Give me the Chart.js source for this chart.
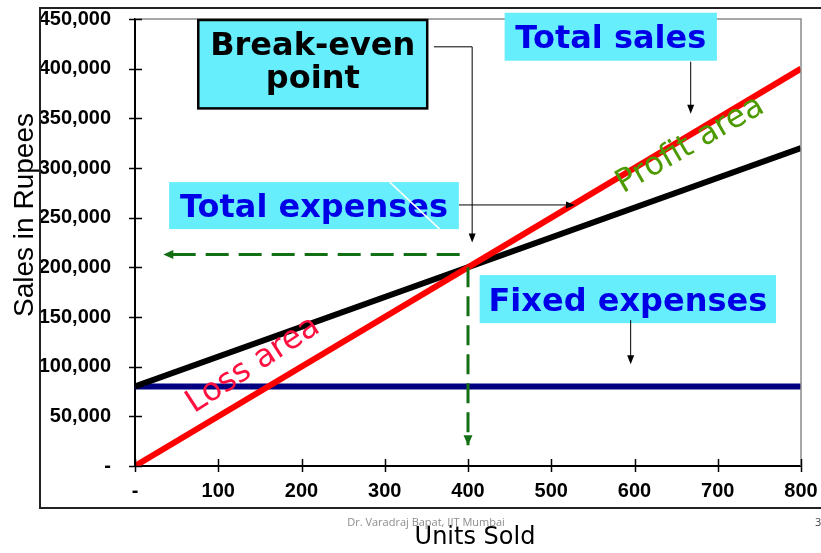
<!DOCTYPE html>
<html>
<head>
<meta charset="utf-8">
<script src="https://cdn.jsdelivr.net/npm/chart.js@4.4.0/dist/chart.umd.min.js"></script>
<style>
  html, body { margin: 0; padding: 0; background: #fff; }
  #wrap { width: 821px; height: 553px; }
</style>
</head>
<body>
<div id="wrap"><canvas id="breakEven" width="821" height="553"></canvas></div>
<script>
// chart data
const units = [0, 800];
const totalSales = [0, 400000];
const totalExpenses = [80000, 320000];
const fixedExpenses = [80000, 80000];

// dashed guides from the break-even point to the axes
const guideLeftX = [390, 34];
const guideLeftY = [213000, 213000];
const guideDownX = [400, 400];
const guideDownY = [200000, 21000];

const xTickValues = [0, 100, 200, 300, 400, 500, 600, 700, 800];
const yTickValues = [0, 50000, 100000, 150000, 200000, 250000, 300000, 350000, 400000, 450000];

function toPoints(xs, ys) {
  return xs.map((x, i) => ({ x: x, y: ys[i] }));
}

// callout boxes, in data units: [x1, y1, x2, y2]
const notes = [
  { lines: ["Break-even", "point"], box: [76, 449000, 351, 360000], color: "#000", border: true,
    arrow: [[359, 422000], [405, 422000], [405, 225000]] },
  { lines: ["Total sales"], box: [444, 456300, 699, 408000], color: "#0000e6",
    arrow: [[667.5, 407000], [667.5, 354500]] },
  { lines: ["Total expenses"], box: [41, 285800, 389, 238500], color: "#0000e6",
    arrow: [[389.2, 262800], [528.5, 262800]] },
  { lines: ["Fixed expenses"], box: [414, 192200, 770, 143800], color: "#0000e6",
    arrow: [[595.4, 146800], [595.4, 102500]] }
];

const areaLabels = [
  { text: "Profit area", x: 667, y: 323000, angle: -30, color: "#4c9a00" },
  { text: "Loss area", x: 142, y: 101500, angle: -33, color: "#ff1040" }
];

function arrowHead(ctx, x, y, angle, len, half) {
  ctx.save();
  ctx.translate(x, y);
  ctx.rotate(angle);
  ctx.beginPath();
  ctx.moveTo(0, 0);
  ctx.lineTo(-len, -half);
  ctx.lineTo(-len, half);
  ctx.closePath();
  ctx.fill();
  ctx.restore();
}

const decorPlugin = {
  id: "decor",
  afterDatasetsDraw(chart) {
    const ctx = chart.ctx;
    const xs = chart.scales.x, ys = chart.scales.y;
    const area = chart.chartArea;

    // gray plot frame on top and right
    ctx.save();
    ctx.strokeStyle = "#8a8a8a";
    ctx.lineWidth = 1.5;
    ctx.beginPath();
    ctx.moveTo(area.left, area.top);
    ctx.lineTo(area.right, area.top);
    ctx.lineTo(area.right, area.bottom);
    ctx.stroke();

    // tick marks crossing the axes
    ctx.strokeStyle = "#000";
    ctx.lineWidth = 1.5;
    yTickValues.forEach((v) => {
      const p = Math.round(ys.getPixelForValue(v)) + 0.5;
      ctx.beginPath();
      ctx.moveTo(area.left - 6, p);
      ctx.lineTo(area.left + 7, p);
      ctx.stroke();
    });
    xTickValues.forEach((v) => {
      const p = Math.round(xs.getPixelForValue(v)) + 0.5;
      ctx.beginPath();
      ctx.moveTo(p, area.bottom - 7);
      ctx.lineTo(p, area.bottom + 6);
      ctx.stroke();
    });

    // arrow heads on the dashed guides
    ctx.fillStyle = "#136f13";
    chart.data.datasets.forEach((ds, i) => {
      if (!ds.guide) return;
      const pts = chart.getDatasetMeta(i).data;
      const a = pts[pts.length - 2], b = pts[pts.length - 1];
      arrowHead(ctx, b.x, b.y, Math.atan2(b.y - a.y, b.x - a.x), 10, 4.5);
    });
    ctx.restore();
  },
  afterDraw(chart) {
    const ctx = chart.ctx;
    const xs = chart.scales.x, ys = chart.scales.y;
    const px = (v) => xs.getPixelForValue(v);
    const py = (v) => ys.getPixelForValue(v);

    ctx.save();
    // callouts
    notes.forEach((n) => {
      const x1 = px(n.box[0]), y1 = py(n.box[1]), x2 = px(n.box[2]), y2 = py(n.box[3]);
      ctx.fillStyle = "#66eefc";
      ctx.fillRect(x1, y1, x2 - x1, y2 - y1);
      if (n.border) {
        ctx.strokeStyle = "#000";
        ctx.lineWidth = 2.5;
        ctx.strokeRect(x1, y1, x2 - x1, y2 - y1);
      }
      ctx.fillStyle = n.color;
      ctx.font = "bold 32px 'DejaVu Sans'";
      ctx.textAlign = "center";
      ctx.textBaseline = "alphabetic";
      const cx = (x1 + x2) / 2, cy = (y1 + y2) / 2;
      const gap = 33;
      const first = n.lines.length > 1 ? cy - 9.5 : cy + 11.5;
      n.lines.forEach((t, i) => ctx.fillText(t, cx, first + i * gap));

      // thin connector arrow
      ctx.strokeStyle = "#000";
      ctx.fillStyle = "#000";
      ctx.lineWidth = 1;
      const path = n.arrow.map((p) => [px(p[0]), py(p[1])]);
      const last = path[path.length - 1], prev = path[path.length - 2];
      const ang = Math.atan2(last[1] - prev[1], last[0] - prev[0]);
      ctx.beginPath();
      path.forEach((p, i) => {
        const q = i === path.length - 1 ? [p[0] - Math.cos(ang) * 8, p[1] - Math.sin(ang) * 8] : p;
        if (i === 0) ctx.moveTo(q[0], q[1]); else ctx.lineTo(q[0], q[1]);
      });
      ctx.stroke();
      arrowHead(ctx, last[0], last[1], ang, 9, 3.5);
    });

    // stray white stroke across the "Total expenses" box
    ctx.strokeStyle = "#fff";
    ctx.lineWidth = 1.5;
    ctx.beginPath();
    ctx.moveTo(px(306), py(285800));
    ctx.lineTo(px(366), py(238500));
    ctx.stroke();

    // rotated area labels
    areaLabels.forEach((l) => {
      ctx.save();
      ctx.translate(px(l.x), py(l.y));
      ctx.rotate(l.angle * Math.PI / 180);
      ctx.fillStyle = l.color;
      ctx.font = "32px 'DejaVu Sans'";
      ctx.textAlign = "center";
      ctx.textBaseline = "middle";
      ctx.fillText(l.text, 0, 0);
      ctx.restore();
    });

    // axis titles
    ctx.fillStyle = "#000";
    ctx.font = "24px 'DejaVu Sans'";
    ctx.textAlign = "center";
    ctx.textBaseline = "middle";
    ctx.fillText("Units Sold", 475, 538);
    ctx.save();
    ctx.translate(25, 215);
    ctx.rotate(-Math.PI / 2);
    ctx.font = "28px 'Liberation Sans'";
    ctx.fillText("Sales in Rupees", 0, 0);
    ctx.restore();

    // footer
    ctx.fillStyle = "#8c8c8c";
    ctx.font = "11px 'Open Sans'";
    ctx.fillText("Dr. Varadraj Bapat, IIT Mumbai", 426, 523);
    ctx.fillStyle = "#444";
    ctx.textAlign = "left";
    ctx.fillText("3", 815, 523);

    // outer slide frame
    ctx.strokeStyle = "#222";
    ctx.lineWidth = 2;
    ctx.beginPath();
    ctx.moveTo(822, 8);
    ctx.lineTo(40, 8);
    ctx.lineTo(40, 508);
    ctx.lineTo(822, 508);
    ctx.stroke();
    ctx.restore();
  }
};

new Chart(document.getElementById("breakEven"), {
  type: "line",
  data: {
    datasets: [
      { label: "Break-even guide", data: toPoints(guideDownX, guideDownY), borderColor: "#136f13",
        borderWidth: 3, borderDash: [20, 9], pointRadius: 0, order: 0, guide: true },
      { label: "Break-even guide left", data: toPoints(guideLeftX, guideLeftY), borderColor: "#136f13",
        borderWidth: 3, borderDash: [23, 10], pointRadius: 0, order: 0, guide: true },
      { label: "Total sales", data: toPoints(units, totalSales), borderColor: "#ff0000",
        borderWidth: 6, pointRadius: 0, order: 1 },
      { label: "Total expenses", data: toPoints(units, totalExpenses), borderColor: "#000000",
        borderWidth: 6, pointRadius: 0, order: 2 },
      { label: "Fixed expenses", data: toPoints(units, fixedExpenses), borderColor: "#000080",
        borderWidth: 6, pointRadius: 0, order: 3 }
    ]
  },
  options: {
    responsive: false,
    animation: false,
    devicePixelRatio: 1,
    layout: { padding: { top: 19, right: 20, left: 0, bottom: 0 } },
    plugins: { legend: { display: false }, tooltip: { enabled: false } },
    elements: { line: { tension: 0, borderCapStyle: "butt" } },
    scales: {
      x: {
        type: "linear",
        min: 0,
        max: 800,
        afterFit: (s) => {
          s.height = 87;
          s.paddingLeft = 0;
          s.paddingRight = 0;
        },
        grid: { display: true, drawOnChartArea: false, drawTicks: false },
        border: { display: true, color: "#000", width: 2 },
        ticks: {
          stepSize: 100,
          padding: 13,
          color: "#000",
          font: { family: "'Liberation Sans', Arial", size: 20, weight: "bold" },
          callback: (v) => (v === 0 ? "-" : v.toLocaleString("en-US"))
        }
      },
      y: {
        type: "linear",
        min: 0,
        max: 450000,
        afterFit: (s) => {
          s.width = 135;
          s.paddingTop = 0;
          s.paddingBottom = 0;
        },
        grid: { display: true, drawOnChartArea: false, drawTicks: false },
        border: { display: true, color: "#000", width: 2 },
        ticks: {
          stepSize: 50000,
          padding: 24,
          color: "#000",
          font: { family: "'Liberation Sans', Arial", size: 20, weight: "bold" },
          callback: (v) => (v === 0 ? "-" : v.toLocaleString("en-US"))
        }
      }
    }
  },
  plugins: [decorPlugin]
});
</script>
</body>
</html>
